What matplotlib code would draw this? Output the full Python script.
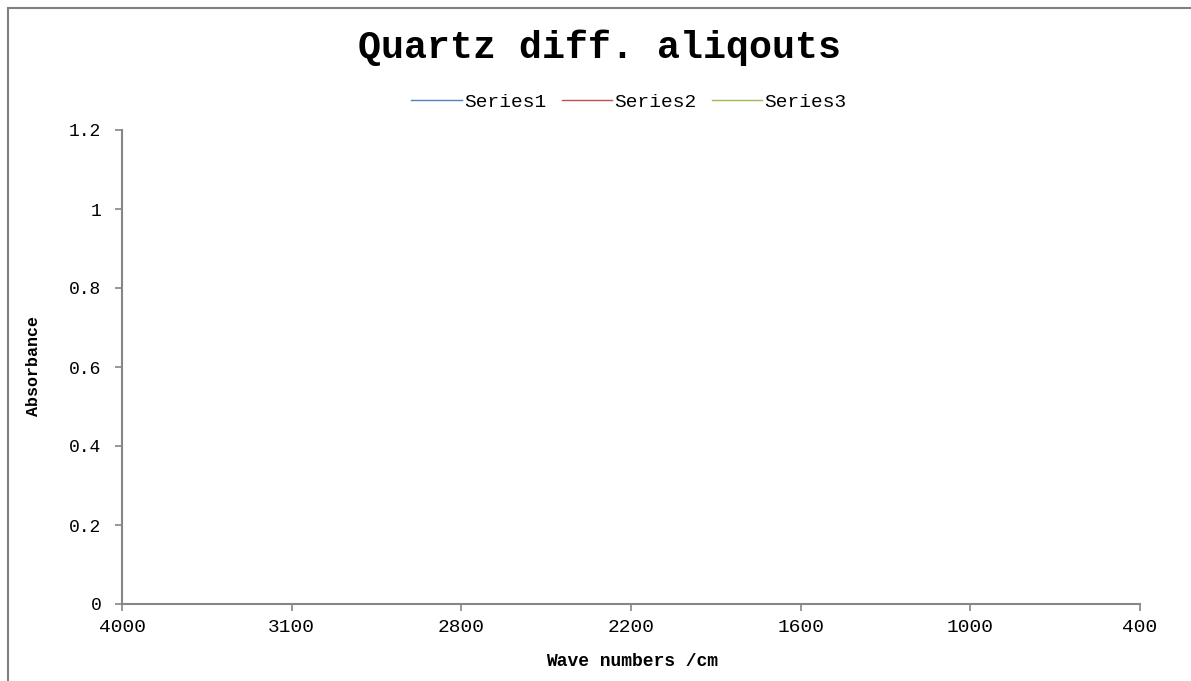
import matplotlib
matplotlib.use("Agg")
import matplotlib.pyplot as plt
from matplotlib.patches import Rectangle
from matplotlib.lines import Line2D

# category axis of the (empty) Excel chart
wave_numbers = ["4000", "3100", "2800", "2200", "1600", "1000", "400"]
series_names = ["Series1", "Series2", "Series3"]
series_colors = ["#4F81BD", "#C0504D", "#9BBB59"]
# no data points were plotted in the original chart
series1 = []
series2 = []
series3 = []
y_ticks = [0, 0.2, 0.4, 0.6, 0.8, 1.0, 1.2]
y_labels = ["0", "0.2", "0.4", "0.6", "0.8", "1", "1.2"]

mono = "Liberation Mono"
grey = "#868686"

fig = plt.figure(figsize=(11.91, 6.81), dpi=100)
W, H = 1191, 681
ax = fig.add_axes([122 / W, 1 - 604 / H, (1140 - 122) / W, (604 - 130) / H])

for vals, name, col in zip([series1, series2, series3], series_names, series_colors):
    ax.plot(range(len(vals)), vals, color=col, lw=1, label=name)

ax.set_xlim(0, len(wave_numbers) - 1)
ax.set_ylim(0, 1.2)
ax.set_xticks(range(len(wave_numbers)))
ax.set_xticklabels(wave_numbers, family=mono, fontsize=14)
ax.set_yticks(y_ticks)
ax.set_yticklabels(y_labels, family=mono, fontsize=13)

for s in ["top", "right"]:
    ax.spines[s].set_visible(False)
for s in ["left", "bottom"]:
    ax.spines[s].set_color(grey)
    ax.spines[s].set_linewidth(1.5)
ax.tick_params(axis="both", color=grey, width=1.2, length=5, direction="out")
ax.tick_params(axis="y", pad=10)
ax.tick_params(axis="x", pad=6)

fig.text(600 / W, 1 - 48 / H, "Quartz diff. aliqouts", family=mono,
         fontweight="bold", fontsize=27.5, ha="center", va="center")
fig.text(632 / W, 1 - 661 / H, "Wave numbers /cm", family=mono,
         fontweight="bold", fontsize=13, ha="center", va="center")
fig.text(33 / W, 1 - 366 / H, "Absorbance", family=mono, rotation=90,
         fontweight="bold", fontsize=12, ha="center", va="center")

handles = [Line2D([], [], color=c, lw=1) for c in series_colors]
fig.legend(handles, series_names, loc="center", bbox_to_anchor=(629 / W, 1 - 102 / H),
           ncol=3, frameon=False, prop={"family": mono, "size": 14},
           handlelength=2.6, handletextpad=0.1, columnspacing=0.8)

# outer chart-area border (clipped by the image on right and bottom)
fig.patches.append(Rectangle((7.5 / W, -0.05), 1.1, 1 - 8.5 / H + 0.05,
                             transform=fig.transFigure, fill=False,
                             edgecolor="#808080", lw=1.5))

fig.savefig("out.png", dpi=100)
